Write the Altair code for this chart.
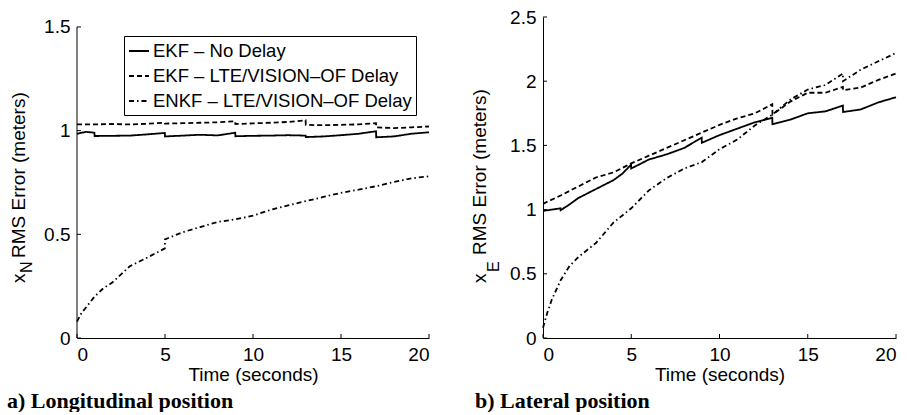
import altair as alt
import pandas as pd

SERIES = ["EKF – No Delay", "EKF – LTE/VISION–OF Delay", "ENKF – LTE/VISION–OF Delay"]
DASHES = [[1, 0], [5, 3], [5, 3, 1.5, 3]]

# ---- Left panel: longitudinal position (x_N) ----
L_T_EKF = [0, 0.5, 0.99, 1.0, 2, 3, 4, 4.99, 5.0, 6, 7, 8, 8.99, 9.0, 10, 11, 12, 12.99, 13.0, 14, 15, 16, 16.99, 17.0, 18, 19, 20]
L_V_EKF = [0.985, 0.994, 0.99, 0.974, 0.975, 0.976, 0.982, 0.989, 0.972, 0.976, 0.98, 0.977, 0.99, 0.973, 0.975, 0.976, 0.978, 0.976, 0.969, 0.972, 0.978, 0.985, 0.997, 0.968, 0.972, 0.985, 0.992]

L_T_EKFD = [0, 1, 2, 3, 4, 4.99, 5.0, 6, 7, 8, 8.99, 9.0, 10, 11, 12, 12.99, 13.0, 14, 15, 16, 16.99, 17.0, 18, 19, 20]
L_V_EKFD = [1.03, 1.03, 1.032, 1.03, 1.033, 1.038, 1.034, 1.036, 1.038, 1.04, 1.045, 1.032, 1.035, 1.038, 1.042, 1.05, 1.028, 1.026, 1.028, 1.03, 1.036, 1.016, 1.012, 1.016, 1.02]

L_T_ENKF = [0, 0.25, 0.5, 1, 1.5, 2, 3, 4, 4.99, 5.0, 6, 7, 8, 9, 10, 11, 12, 13, 14, 15, 16, 17, 18, 19, 20]
L_V_ENKF = [0.079, 0.12, 0.146, 0.2, 0.24, 0.267, 0.346, 0.388, 0.432, 0.476, 0.51, 0.535, 0.56, 0.572, 0.59, 0.618, 0.64, 0.66, 0.68, 0.70, 0.715, 0.732, 0.752, 0.77, 0.78]

# ---- Right panel: lateral position (x_E) ----
R_T_EKF = [0, 0.5, 0.99, 1.0, 1.5, 2, 3, 4, 4.5, 4.99, 5.0, 6, 7, 8, 8.99, 9.0, 10, 11, 12, 12.99, 13.0, 14, 15, 16, 16.99, 17.0, 18, 19, 20]
R_V_EKF = [0.99, 1.0, 1.01, 0.995, 1.04, 1.09, 1.16, 1.23, 1.28, 1.35, 1.32, 1.39, 1.43, 1.48, 1.56, 1.52, 1.58, 1.63, 1.68, 1.715, 1.665, 1.70, 1.75, 1.765, 1.81, 1.76, 1.78, 1.835, 1.875]

R_T_EKFD = [0, 1, 2, 3, 4, 5, 6, 7, 8, 9, 10, 11, 12, 12.99, 13.0, 14, 15, 16, 16.99, 17.0, 18, 19, 20]
R_V_EKFD = [1.045, 1.11, 1.18, 1.25, 1.29, 1.36, 1.42, 1.48, 1.54, 1.60, 1.66, 1.71, 1.75, 1.82, 1.74, 1.84, 1.91, 1.91, 1.955, 1.93, 1.95, 2.01, 2.06]

R_T_ENKF = [0, 0.25, 0.5, 1, 1.5, 2, 3, 4, 5, 6, 7, 8, 9, 10, 11, 12, 13, 14, 15, 16, 16.99, 17.0, 18, 19, 20]
R_V_ENKF = [0.08, 0.2, 0.3, 0.45, 0.56, 0.63, 0.74, 0.9, 1.01, 1.15, 1.245, 1.32, 1.37, 1.47, 1.545, 1.655, 1.74, 1.855, 1.935, 1.97, 2.06, 2.0, 2.09, 2.155, 2.22]

X_TICKS = [0, 5, 10, 15, 20]
L_Y_TICKS = [0, 0.5, 1, 1.5]
R_Y_TICKS = [0, 0.5, 1, 1.5, 2, 2.5]

FONT = "Liberation Sans"
SERIF = "Liberation Serif"
W1, W2, H = 352, 353, 321


def long_df(groups):
    rows = []
    i = 0
    for name, ts, vs in groups:
        for t, v in zip(ts, vs):
            rows.append({"series": name, "t": t, "v": v, "idx": i})
            i += 1
    return pd.DataFrame(rows)


left_df = long_df([(SERIES[0], L_T_EKF, L_V_EKF), (SERIES[1], L_T_EKFD, L_V_EKFD), (SERIES[2], L_T_ENKF, L_V_ENKF)])
right_df = long_df([(SERIES[0], R_T_EKF, R_V_EKF), (SERIES[1], R_T_EKFD, R_V_EKFD), (SERIES[2], R_T_ENKF, R_V_ENKF)])


def panel(df, width, ydomain, yticks, ydomain_line, legend, sub, title_x, sub_x, y_x, y_sub, y_main, caption, cap_x):
    xaxis = alt.Axis(values=X_TICKS, title="Time (seconds)", ticks=False, labelPadding=7, grid=False,
                     domainColor="black", domainWidth=1, labelFont=FONT, labelFontSize=19, labelColor="black",
                     titleFont=FONT, titleFontSize=19, titleFontWeight="normal", titleColor="black",
                     titleY=42, titleBaseline="alphabetic")
    yaxis = alt.Axis(values=yticks, title=None, ticks=False, labelPadding=7, grid=False,
                     domain=ydomain_line, domainColor="black", domainWidth=1,
                     labelFont=FONT, labelFontSize=19, labelColor="black", labelExpr="'' + datum.value")
    if legend:
        leg = alt.Legend(title=None, orient="none", legendX=47, legendY=19, fillColor="white",
                         strokeColor="black", padding=4, symbolType="stroke", symbolSize=400,
                         symbolStrokeWidth=2, symbolStrokeColor="black", labelFont=FONT,
                         labelFontSize=18.5, labelColor="black", labelOffset=3, rowPadding=4, labelLimit=400)
    else:
        leg = None
    lines = alt.Chart(df).mark_line(color="black", strokeWidth=1.8).encode(
        x=alt.X("t:Q", scale=alt.Scale(domain=[0, 20], nice=False), axis=xaxis),
        y=alt.Y("v:Q", scale=alt.Scale(domain=ydomain, nice=False, zero=False), axis=yaxis),
        strokeDash=alt.StrokeDash("series:N", scale=alt.Scale(domain=SERIES, range=DASHES), legend=leg),
        order="idx:Q",
    )
    layers = [lines]
    xt = alt.Chart(pd.DataFrame({"t": X_TICKS})).mark_rule(color="black", strokeWidth=1).encode(
        x="t:Q", y=alt.value(H), y2=alt.value(H - 4))
    yt = alt.Chart(pd.DataFrame({"v": yticks})).mark_rule(color="black", strokeWidth=1).encode(
        y="v:Q", x=alt.value(0), x2=alt.value(4))
    layers += [xt, yt]
    if not ydomain_line:
        ax = alt.Chart(pd.DataFrame({"t": [0], "v": [0], "v2": [yticks[-1]]})).mark_rule(
            color="black", strokeWidth=1).encode(x="t:Q", y="v:Q", y2="v2:Q")
        layers.append(ax)
    t1 = alt.Chart(pd.DataFrame({"label": ["x"]})).mark_text(
        angle=270, align="left", baseline="alphabetic", font=FONT, fontSize=19, color="black").encode(
        text="label:N", x=alt.value(title_x), y=alt.value(y_x))
    t2 = alt.Chart(pd.DataFrame({"label": [sub]})).mark_text(
        angle=270, align="left", baseline="alphabetic", font=FONT, fontSize=16, color="black").encode(
        text="label:N", x=alt.value(sub_x), y=alt.value(y_sub))
    t3 = alt.Chart(pd.DataFrame({"label": ["RMS Error (meters)"]})).mark_text(
        angle=270, align="left", baseline="alphabetic", font=FONT, fontSize=19, color="black").encode(
        text="label:N", x=alt.value(title_x), y=alt.value(y_main))
    cap = alt.Chart(pd.DataFrame({"label": [caption]})).mark_text(
        align="left", baseline="alphabetic", font=SERIF, fontSize=22, fontWeight="bold", color="black").encode(
        text="label:N", x=alt.value(cap_x), y=alt.value(H + 70))
    layers += [t1, t2, t3, cap]
    return alt.layer(*layers).properties(width=width, height=H)


left = panel(left_df, W1, [0, 1.548], L_Y_TICKS, False, True, "N", -52, -45, 266, 256, 241,
             "a) Longitudinal position", -70)
right = panel(right_df, W2, [0, 2.5], R_Y_TICKS, True, False, "E", -57, -44, 266, 255, 238,
              "b) Lateral position", -68)

chart = alt.hconcat(left, right, spacing=114, bounds="flush").properties(
    padding={"left": 7, "top": 8, "right": 0, "bottom": 0}
).configure_view(stroke=None).resolve_scale(strokeDash="shared")

chart.save("out.html", embed_options={"renderer": "svg", "actions": False})
